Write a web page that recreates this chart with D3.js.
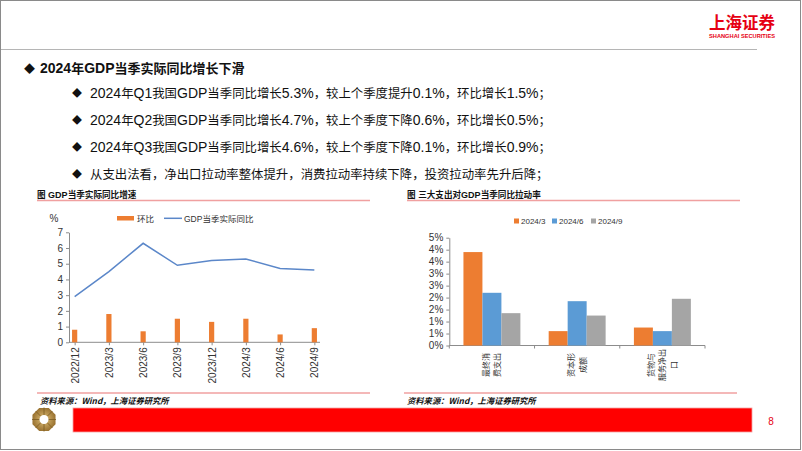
<!DOCTYPE html>
<html><head><meta charset="utf-8">
<script src="https://cdn.jsdelivr.net/npm/d3@7"></script>
<style>body{margin:0;background:#fff} svg{display:block}</style>
</head><body><svg id="c" width="802" height="451"></svg>
<script>
// ---------- data ----------
const quarters = ["2022/12","2023/3","2023/6","2023/9","2023/12","2024/3","2024/6","2024/9"];
const qoqGrowth = [0.8,1.8,0.7,1.5,1.3,1.5,0.5,0.9];
const yoyGrowth = [2.9,4.5,6.3,4.9,5.2,5.3,4.7,4.6];
const leftYTicks = [0,1,2,3,4,5,6,7];
const leftSeriesNames = ["环比","GDP当季实际同比"];

const expenditureItems = ["最终消费支出","资本形成额","货物与服务净出口"];
const itemLabelLines = [["最终消","费支出"],["资本形","成额"],["货物与","服务净出","口"]];
const periods = ["2024/3","2024/6","2024/9"];
const pull_2024_3 = [3.9,0.6,0.75];
const pull_2024_6 = [2.2,1.85,0.6];
const pull_2024_9 = [1.35,1.25,1.95];
const rightYTicks = [0,0.5,1,1.5,2,2.5,3,3.5,4,4.5];

const headline = "2024年GDP当季实际同比增长下滑";
const bulletLines = [
  "2024年Q1我国GDP当季同比增长5.3%，较上个季度提升0.1%，环比增长1.5%；",
  "2024年Q2我国GDP当季同比增长4.7%，较上个季度下降0.6%，环比增长0.5%；",
  "2024年Q3我国GDP当季同比增长4.6%，较上个季度下降0.1%，环比增长0.9%；",
  "从支出法看，净出口拉动率整体提升，消费拉动率持续下降，投资拉动率先升后降；"
];
const leftTitle = "图  GDP当季实际同比增速";
const rightTitle = "图  三大支出对GDP当季同比拉动率";
const sourceText = "资料来源：Wind，上海证券研究所";

// ---------- helpers ----------
const LATIN = "'Liberation Sans', Arial, sans-serif";
const CJK = "'Noto Sans CJK SC', sans-serif";
const svg = d3.select("#c");

function mixedText(g, x, y, str, latinSize, cjkSize, weight, fill) {
  const t = g.append("text").attr("x", x).attr("y", y).attr("fill", fill).attr("font-weight", weight);
  (str.match(/[\x00-\x7F]+|[^\x00-\x7F]+/g) || []).forEach(r => {
    const ascii = /^[\x00-\x7F]/.test(r);
    t.append("tspan").text(r)
      .attr("font-family", ascii ? LATIN : CJK)
      .attr("font-size", ascii ? latinSize : cjkSize);
  });
  return t;
}

// ---------- page frame & header ----------
svg.append("rect").attr("x",0.5).attr("y",0.5).attr("width",800).attr("height",449)
  .attr("fill","#fff").attr("stroke","#8a8a8a").attr("stroke-width",1);
svg.append("line").attr("x1",1).attr("x2",757).attr("y1",49.5).attr("y2",49.5)
  .attr("stroke","#b5b5b5").attr("stroke-width",1);
svg.append("text").attr("x",742).attr("y",29).attr("text-anchor","middle")
  .attr("font-family",CJK).attr("font-weight","bold").attr("font-size",16.5)
  .attr("fill","#e60012").text("上海证券");
svg.append("text").attr("x",709).attr("y",38).attr("textLength",66).attr("lengthAdjust","spacingAndGlyphs")
  .attr("font-family",LATIN).attr("font-weight","bold").attr("font-size",6)
  .attr("fill","#e60012").text("SHANGHAI SECURITIES");

// ---------- headline & bullets ----------
svg.append("text").attr("x",24).attr("y",72.5).attr("font-family",CJK).attr("font-size",11)
  .attr("fill","#111").text("◆");
mixedText(svg, 40, 73, headline, 14, 13, "bold", "#111");
bulletLines.forEach((s, i) => {
  const y = 97.5 + i * 27;
  svg.append("text").attr("x",72).attr("y",y-0.5).attr("font-family",CJK).attr("font-size",10)
    .attr("fill","#111").text("◆");
  mixedText(svg, 90, y, s, 14, 12.4, "normal", "#111");
});

// ---------- chart titles & rules ----------
[[37, 370, leftTitle],[407, 740, rightTitle]].forEach(([x1,x2,t]) => {
  mixedText(svg, x1, 198, t, 9, 8.6, "bold", "#111");
  svg.append("line").attr("x1",x1).attr("x2",x2).attr("y1",200.5).attr("y2",200.5)
    .attr("stroke","#f0a0a0").attr("stroke-width",1.5);
});
[[37, 370],[404, 737]].forEach(([x1,x2]) => {
  svg.append("line").attr("x1",x1).attr("x2",x2).attr("y1",393).attr("y2",393)
    .attr("stroke","#f0a0a0").attr("stroke-width",1.5);
  svg.append("text").attr("x",x1+3).attr("y",404).attr("font-family",CJK).attr("font-size",8.3)
    .attr("font-weight","bold").attr("font-style","italic").attr("fill","#111").text(sourceText);
});

// ---------- left chart ----------
const gL = svg.append("g");
const xL = d3.scalePoint().domain(quarters).range([69,320]).padding(0.165);
const yL = d3.scaleLinear().domain([0,7]).range([342.3,232.3]);

const yAxL = gL.append("g").attr("transform","translate(69,0)")
  .call(d3.axisLeft(yL).tickValues(leftYTicks).tickSize(3).tickSizeOuter(0).tickPadding(3).tickFormat(d3.format("d")));
const xAxL = gL.append("g").attr("transform",`translate(0,${yL(0)})`)
  .call(d3.axisBottom(xL).tickSize(3).tickSizeOuter(0).tickPadding(4));
xAxL.selectAll("text").attr("transform", function(){ return null; });
xAxL.selectAll(".tick text")
  .attr("text-anchor","end").attr("dy","0.35em").attr("y",0)
  .attr("transform","translate(0,5) rotate(-90)");
xAxL.select(".domain").attr("d", `M69,0H320`);
[yAxL, xAxL].forEach(a => {
  a.select(".domain").attr("stroke","#8c8c8c");
  a.selectAll(".tick line").attr("stroke","#8c8c8c");
  a.selectAll("text").attr("font-family",LATIN).attr("font-size",10).attr("fill","#333");
});
gL.append("text").attr("x",54).attr("y",222).attr("text-anchor","middle")
  .attr("font-family",LATIN).attr("font-size",10).attr("fill","#333").text("%");

gL.selectAll("rect.qoq").data(quarters).join("rect").attr("class","qoq")
  .attr("x", d => xL(d) - 2.6).attr("width", 5.2)
  .attr("y", (d,i) => yL(qoqGrowth[i])).attr("height", (d,i) => yL(0) - yL(qoqGrowth[i]))
  .attr("fill","#ed7d31");
gL.append("path").datum(quarters)
  .attr("d", d3.line().x(d => xL(d)).y((d,i) => yL(yoyGrowth[i])))
  .attr("fill","none").attr("stroke","#5b87c9").attr("stroke-width",1.5);

// legend
gL.append("rect").attr("x",117).attr("y",216).attr("width",17).attr("height",4.5).attr("fill","#ed7d31");
gL.append("text").attr("x",137).attr("y",221.5).attr("font-family",CJK).attr("font-size",8.5)
  .attr("fill","#333").text(leftSeriesNames[0]);
gL.append("line").attr("x1",164).attr("x2",182).attr("y1",218.3).attr("y2",218.3)
  .attr("stroke","#5b87c9").attr("stroke-width",1.5);
mixedText(gL, 184, 221.5, leftSeriesNames[1], 8.5, 8.5, "normal", "#333");

// ---------- right chart ----------
const gR = svg.append("g");
const xR = d3.scaleBand().domain(expenditureItems).range([449.3,705]);
const xSub = d3.scaleBand().domain(periods).range([0, xR.bandwidth()]).paddingOuter(0.745);
const yR = d3.scaleLinear().domain([0,4.5]).range([345.5,237.7]);
const colorR = d3.scaleOrdinal().domain(periods).range(["#ed7d31","#5b9bd5","#a5a5a5"]);
const pulls = [pull_2024_3, pull_2024_6, pull_2024_9];

const yAxR = gR.append("g").attr("transform","translate(449.3,0)")
  .call(d3.axisLeft(yR).tickValues(rightYTicks).tickSize(3).tickSizeOuter(0).tickPadding(3)
    .tickFormat(d => Math.round(d) + "%"));
yAxR.select(".domain").attr("stroke","#8c8c8c");
yAxR.selectAll(".tick line").attr("stroke","#8c8c8c");
yAxR.selectAll("text").attr("font-family",LATIN).attr("font-size",10).attr("fill","#333");

const xTicksR = [xR.range()[0]].concat(expenditureItems.map(d => xR(d) + xR.bandwidth()));
gR.append("line").attr("x1",xR.range()[0]).attr("x2",xR.range()[1])
  .attr("y1",yR(0)).attr("y2",yR(0)).attr("stroke","#8c8c8c");
gR.selectAll("line.xt").data(xTicksR).join("line").attr("class","xt")
  .attr("x1",d=>d).attr("x2",d=>d).attr("y1",yR(0)).attr("y2",yR(0)+3).attr("stroke","#8c8c8c");

periods.forEach((p, si) => {
  gR.selectAll(`rect.s${si}`).data(expenditureItems).join("rect").attr("class",`s${si}`)
    .attr("x", d => xR(d) + xSub(p)).attr("width", xSub.bandwidth())
    .attr("y", (d,i) => yR(pulls[si][i])).attr("height", (d,i) => yR(0) - yR(pulls[si][i]))
    .attr("fill", colorR(p));
});

expenditureItems.forEach((d, i) => {
  const lines = itemLabelLines[i];
  const cx = xR(d) + xR.bandwidth()/2;
  lines.forEach((ln, j) => {
    const x = cx + (j - (lines.length-1)/2) * 11.5;
    gR.append("text").attr("transform",`translate(${x},365) rotate(-90)`)
      .attr("text-anchor","middle").attr("dy","0.35em")
      .attr("font-family",CJK).attr("font-size",8).attr("fill","#333").text(ln);
  });
});

// legend
const legX = [514, 552, 591];
periods.forEach((p, i) => {
  gR.append("rect").attr("x",legX[i]).attr("y",218.5).attr("width",5).attr("height",5).attr("fill",colorR(p));
  gR.append("text").attr("x",legX[i]+7).attr("y",224).attr("font-family",LATIN).attr("font-size",8)
    .attr("fill","#333").text(p);
});

// ---------- footer ----------
svg.append("rect").attr("x",73).attr("y",408).attr("width",679).attr("height",24)
  .attr("fill","#ff0000").attr("stroke","#f6a0a0").attr("stroke-width",0.8);
svg.append("text").attr("x",771).attr("y",424.5).attr("text-anchor","middle")
  .attr("font-family",LATIN).attr("font-size",10).attr("fill","#e60012").text("8");

const defs = svg.append("defs");
const grad = defs.append("radialGradient").attr("id","gold");
grad.append("stop").attr("offset","0%").attr("stop-color","#e2c27a");
grad.append("stop").attr("offset","100%").attr("stop-color","#9b7432");
const logo = svg.append("g").attr("transform","translate(44,419.5)");
const oct = d3.range(8).map(k => {
  const a = Math.PI/8 + k*Math.PI/4;
  return [12.5*Math.cos(a), 12.5*Math.sin(a)];
});
logo.append("polygon").attr("points", oct.map(p => p.join(",")).join(" ")).attr("fill","url(#gold)");
logo.selectAll("line").data(d3.range(8)).join("line")
  .attr("x1", k => 4*Math.cos(k*Math.PI/4)).attr("y1", k => 4*Math.sin(k*Math.PI/4))
  .attr("x2", k => 12*Math.cos(k*Math.PI/4)).attr("y2", k => 12*Math.sin(k*Math.PI/4))
  .attr("stroke","#7a5a22").attr("stroke-width",0.8);
logo.append("circle").attr("r",4.5).attr("fill","#fff");
</script></body></html>
